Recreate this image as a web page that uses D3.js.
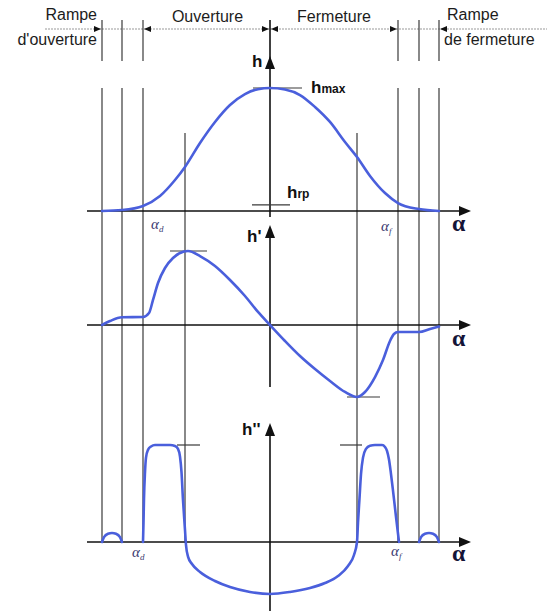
<!DOCTYPE html>
<html><head><meta charset="utf-8">
<script src="https://cdn.jsdelivr.net/npm/d3@7"></script>
<style>body{margin:0;background:#fff}svg{display:block}</style>
</head><body><svg id="c" width="547" height="611"></svg>
<script>
// ---- data ----
const outerAngles = [-168, -148, -127, 128, 149, 169];
const innerAngles = [-85, 87];
const headerAngles = [-168, -148, -127, 128, 149, 169];
const phaseLabels = ["Rampe", "d'ouverture", "Ouverture", "Fermeture", "Rampe", "de fermeture"];
// lift h (normalised to hmax = 1)
const hCurve = [[-168,0],[-148,0.008],[-127,0.041],[-110,0.122],[-95,0.252],[-85,0.358],[-70,0.553],[-55,0.724],[-40,0.862],[-25,0.951],[-12,0.99],[0,1],[15,0.988],[30,0.943],[45,0.846],[60,0.724],[75,0.561],[87,0.439],[100,0.285],[115,0.146],[128,0.065],[149,0.016],[169,0]];
const hrp = 0.05;
// velocity h'
const h1Curve = [[-168,0],[-160,0.054],[-148,0.105],[-127,0.108],[-121,0.162],[-117,0.338],[-112,0.568],[-105,0.77],[-97,0.905],[-90,0.973],[-82,1.0],[-70,0.932],[-55,0.797],[-40,0.608],[-25,0.392],[-12,0.176],[0,0],[15,-0.216],[30,-0.419],[45,-0.595],[60,-0.757],[75,-0.905],[87,-0.973],[95,-0.905],[105,-0.703],[113,-0.473],[120,-0.216],[124,-0.122],[128,-0.095],[149,-0.095],[160,-0.054],[169,-0.02]];
// acceleration h''
const h2BumpLeft = [[-168,0],[-166,0.05],[-162,0.085],[-158,0.093],[-154,0.085],[-150,0.05],[-148,0]];
const h2Main = [[-127,0],[-126.5,0.2],[-126,0.45],[-125,0.72],[-124,0.87],[-122,0.95],[-119,0.985],[-115,1.0],[-100,1.0],[-95,0.99],[-92,0.96],[-90,0.88],[-88.5,0.72],[-87,0.433],[-85,0.124],[-84,-0.031],[-82,-0.15],[-78,-0.227],[-70,-0.309],[-55,-0.402],[-40,-0.464],[-20,-0.515],[0,-0.536],[20,-0.515],[40,-0.474],[55,-0.423],[68,-0.351],[78,-0.247],[84,-0.134],[87,0],[88,0.2],[89.5,0.45],[91,0.7],[93,0.87],[96,0.96],[100,0.993],[105,1.0],[112,1.0],[115,0.98],[117,0.94],[119,0.85],[121,0.7],[123,0.53],[126,0.26],[129,0]];
const h2BumpRight = [[149,0],[151,0.05],[155,0.085],[159,0.093],[163,0.085],[167,0.05],[169,0]];

// ---- scales ----
const svg = d3.select("#c");
const x = d3.scaleLinear().domain([-185, 200]).range([85, 470]);
const y1 = d3.scaleLinear().domain([0, 1]).range([211, 88]);
const y2 = d3.scaleLinear().domain([-1, 1]).range([399, 251]);
const y3 = d3.scaleLinear().domain([0, 1]).range([542, 445]);

const thin = "#3a3a3a";
const blue = "#4a5fdc";
const font = "'Liberation Sans', Arial, sans-serif";

// header
svg.append("line").attr("x1", 45).attr("x2", 547).attr("y1", 29).attr("y2", 29)
  .attr("stroke", "#9a9a9a").attr("stroke-width", 1.2).attr("stroke-dasharray", "2,1");
svg.selectAll(".hl").data(headerAngles).join("line")
  .attr("x1", d => x(d)).attr("x2", d => x(d)).attr("y1", 20).attr("y2", 61)
  .attr("stroke", thin).attr("stroke-width", 1.2);
function smallArrow(tipX, dir) {
  const L = 7, W = 3;
  svg.append("path").attr("d", `M${tipX},29 L${tipX - dir * L},${29 - W} L${tipX - dir * L},${29 + W} Z`).attr("fill", "#111");
}
smallArrow(x(-168) - 1, 1);
smallArrow(x(-127) + 1, -1);
smallArrow(x(0) - 1, 1);
smallArrow(x(0) + 1, -1);
smallArrow(x(128) - 1, 1);
smallArrow(x(169) + 1, -1);

const ht = svg.append("g").attr("font-family", font).attr("font-size", 16).attr("fill", "#1c1c1c");
ht.append("text").attr("x", 97).attr("y", 20).attr("text-anchor", "end").text(phaseLabels[0]);
ht.append("text").attr("x", 97).attr("y", 45).attr("text-anchor", "end").text(phaseLabels[1]);
ht.append("text").attr("x", (x(-127) + x(0)) / 2 + 1).attr("y", 22).attr("text-anchor", "middle").text(phaseLabels[2]);
ht.append("text").attr("x", (x(0) + x(128)) / 2).attr("y", 22).attr("text-anchor", "middle").text(phaseLabels[3]);
ht.append("text").attr("x", 447).attr("y", 20).text(phaseLabels[4]);
ht.append("text").attr("x", 444).attr("y", 45).text(phaseLabels[5]);

// vertical guide lines
svg.selectAll(".ol").data(outerAngles).join("line")
  .attr("x1", d => x(d)).attr("x2", d => x(d)).attr("y1", 88).attr("y2", 543)
  .attr("stroke", thin).attr("stroke-width", 1.2);
svg.selectAll(".il").data(innerAngles).join("line")
  .attr("x1", d => x(d)).attr("x2", d => x(d)).attr("y1", 133).attr("y2", 543)
  .attr("stroke", thin).attr("stroke-width", 1.2);

// axes
function hAxis(y0, lblY) {
  svg.append("line").attr("x1", 87).attr("x2", 462).attr("y1", y0).attr("y2", y0)
    .attr("stroke", "#111").attr("stroke-width", 1.6);
  svg.append("path").attr("d", `M471,${y0} L459,${y0 - 5} L459,${y0 + 5} Z`).attr("fill", "#111");
  svg.append("text").attr("x", 452).attr("y", lblY).attr("font-family", "'Liberation Serif','DejaVu Serif',serif")
    .attr("font-weight", "bold").attr("font-size", 24).attr("fill", "#141438").text("α");
}
function vAxis(top, bottom, topLine) {
  const cx = x(0);
  svg.append("line").attr("x1", cx).attr("x2", cx).attr("y1", topLine).attr("y2", bottom)
    .attr("stroke", "#111").attr("stroke-width", 1.6);
  svg.append("path").attr("d", `M${cx},${top} L${cx - 5},${top + 13} L${cx + 5},${top + 13} Z`).attr("fill", "#111");
}
hAxis(y1(0), 231);
hAxis(y2(0), 346);
hAxis(y3(0), 561);
vAxis(56, 217, 20);
vAxis(225, 387, 232);
vAxis(423, 611, 430);

// axis titles
const lab = svg.append("g").attr("font-family", font).attr("font-weight", "bold").attr("fill", "#111");
lab.append("text").attr("x", 252).attr("y", 67).attr("font-size", 17).text("h");
lab.append("text").attr("x", 247).attr("y", 242).attr("font-size", 17).text("h'");
lab.append("text").attr("x", 242).attr("y", 435).attr("font-size", 17).text("h''");
const hm = lab.append("text").attr("x", 311).attr("y", 93).attr("font-size", 17);
hm.append("tspan").text("h");
hm.append("tspan").attr("font-size", 12).text("max");
const hr = lab.append("text").attr("x", 287).attr("y", 198).attr("font-size", 17);
hr.append("tspan").text("h");
hr.append("tspan").attr("font-size", 12).text("rp");

// reference ticks
const tick = (a0, a1, yy) => svg.append("line").attr("x1", x(a0)).attr("x2", x(a1)).attr("y1", yy).attr("y2", yy)
  .attr("stroke", thin).attr("stroke-width", 1.2);
tick(-17, 32, y1(1));
tick(-18, 20, y1(hrp));
tick(-100, -63, y2(1));
tick(77, 110, y2(-0.973));
tick(-93, -70, y3(1));
tick(70, 92, y3(1));

// alpha_d / alpha_f labels
function aLabel(xx, yy, sub) {
  const t = svg.append("text").attr("x", xx).attr("y", yy).attr("font-family", "'Liberation Serif','DejaVu Serif',serif")
    .attr("font-style", "italic").attr("font-size", 15).attr("fill", "#3b3b70");
  t.append("tspan").text("α");
  t.append("tspan").attr("font-size", 9).attr("dy", 3).text(sub);
}
aLabel(151, 229, "d");
aLabel(381, 231, "f");
aLabel(132, 557, "d");
aLabel(391, 556, "f");

// curves
const mk = ys => d3.line().x(d => x(d[0])).y(d => ys(d[1])).curve(d3.curveMonotoneX);
const draw = (data, ys) => svg.append("path").datum(data).attr("d", mk(ys)).attr("fill", "none")
  .attr("stroke", blue).attr("stroke-width", 2.6).attr("stroke-linejoin", "round").attr("stroke-linecap", "round");
draw(hCurve, y1);
draw(h1Curve, y2);
draw(h2BumpLeft, y3);
draw(h2Main, y3);
draw(h2BumpRight, y3);
</script></body></html>
